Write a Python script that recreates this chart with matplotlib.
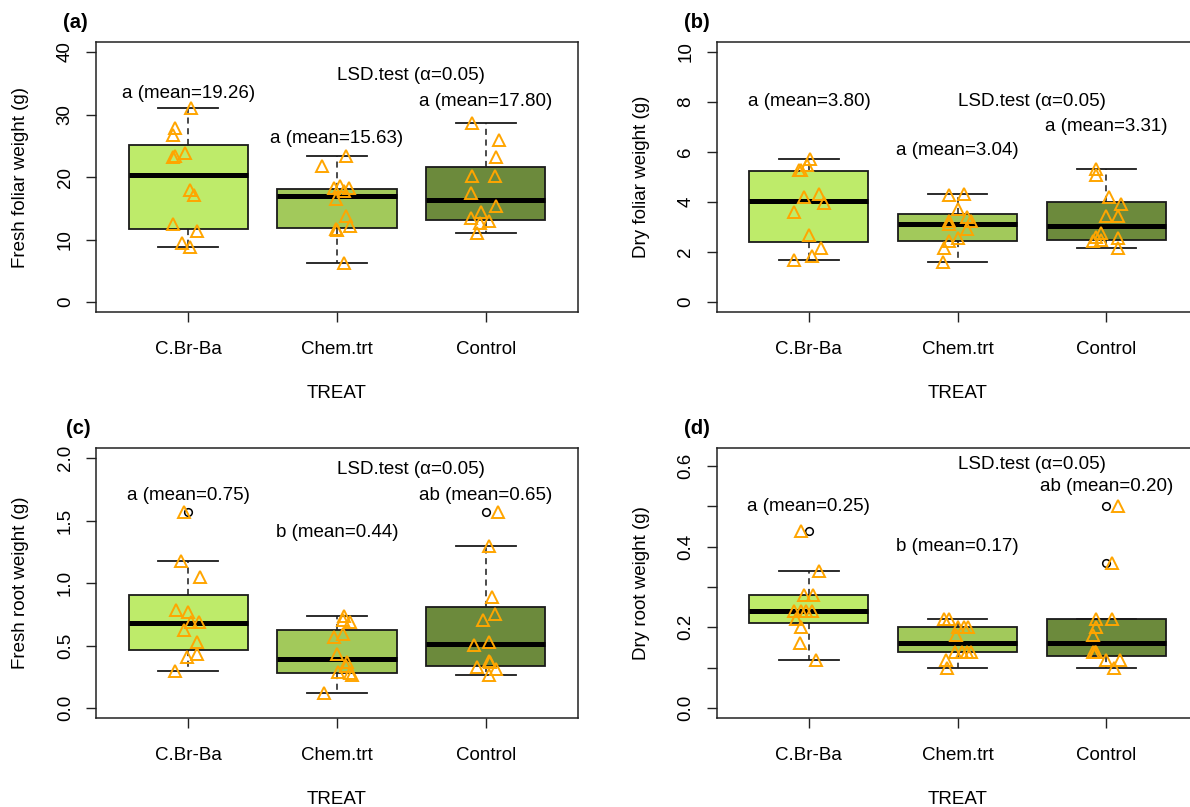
import matplotlib.pyplot as plt
import numpy as np

plt.rcParams['font.family'] = ['Liberation Sans', 'DejaVu Sans']
plt.rcParams['font.size'] = 13.5

treat = ['C.Br-Ba', 'Chem.trt', 'Control']
box_colors = ['#BEEB6A', '#A2C95B', '#6C8A3C']

# (a) fresh foliar weight: points per group, jitter, five numbers, outliers
fw_vals = [[31.1, 27.9, 26.8, 23.9, 23.3, 23.2, 17.9, 17.1, 12.5, 11.3, 9.4, 8.8],
           [23.4, 21.7, 18.2, 18.5, 18.2, 17.8, 16.5, 13.7, 12.2, 11.7, 11.5, 6.2],
           [28.6, 26.0, 23.2, 20.2, 20.2, 17.5, 15.4, 14.4, 13.4, 12.6, 13.0, 11.1]]
fw_jit = [[0.02, -0.09, -0.10, -0.02, -0.09, -0.10, 0.01, 0.04, -0.10, 0.06, -0.04, 0.01],
          [0.06, -0.10, -0.02, 0.02, 0.08, 0.05, -0.01, 0.06, 0.09, -0.01, 0.0, 0.05],
          [-0.09, 0.09, 0.07, -0.09, 0.06, -0.10, 0.07, -0.03, -0.10, -0.04, 0.02, -0.06]]
fw_box = [[8.8, 11.7, 20.4, 25.1, 31.1],
          [6.2, 11.85, 17.0, 18.1, 23.4],
          [11.1, 13.1, 16.3, 21.6, 28.6]]
fw_out = [[], [], []]
fw_lab = ['a (mean=19.26)', 'a (mean=15.63)', 'a (mean=17.80)']

# (b) dry foliar weight
df_vals = [[5.71, 5.50, 5.27, 5.30, 4.21, 4.31, 3.95, 3.59, 2.69, 2.16, 1.70, 1.83],
           [4.30, 4.33, 3.71, 3.39, 3.25, 3.25, 3.11, 2.92, 2.58, 2.43, 2.16, 1.60],
           [5.31, 5.07, 4.19, 3.92, 3.44, 3.46, 2.78, 2.62, 2.45, 2.49, 2.56, 2.17]]
df_jit = [[0.01, -0.01, -0.07, -0.05, -0.03, 0.07, 0.10, -0.10, 0.0, 0.08, -0.10, 0.02],
          [-0.06, 0.04, 0.0, 0.06, -0.06, 0.09, -0.06, 0.06, 0.0, -0.06, -0.09, -0.10],
          [-0.07, -0.07, 0.02, 0.10, 0.0, 0.08, -0.04, -0.07, -0.09, -0.04, 0.08, 0.08]]
df_box = [[1.70, 2.40, 4.04, 5.23, 5.71],
          [1.60, 2.45, 3.14, 3.51, 4.33],
          [2.17, 2.48, 3.06, 3.99, 5.31]]
df_out = [[], [], []]
df_lab = ['a (mean=3.80)', 'a (mean=3.04)', 'a (mean=3.31)']

# (c) fresh root weight
fr_vals = [[1.57, 1.18, 1.045, 0.786, 0.767, 0.688, 0.688, 0.627, 0.529, 0.407, 0.434, 0.30],
           [0.74, 0.706, 0.688, 0.569, 0.593, 0.434, 0.368, 0.336, 0.291, 0.278, 0.265, 0.121],
           [1.57, 1.30, 0.891, 0.751, 0.706, 0.508, 0.529, 0.376, 0.368, 0.328, 0.31, 0.262]]
fr_jit = [[-0.03, -0.05, 0.08, -0.08, 0.0, 0.02, 0.07, -0.03, 0.06, -0.01, 0.06, -0.09],
          [0.05, 0.04, 0.09, -0.02, 0.04, 0.0, 0.07, 0.06, 0.01, 0.09, 0.10, -0.09],
          [0.08, 0.02, 0.04, 0.06, -0.02, -0.08, 0.02, 0.02, 0.03, -0.06, 0.07, 0.02]]
fr_box = [[0.30, 0.468, 0.68, 0.907, 1.18],
          [0.121, 0.278, 0.389, 0.627, 0.74],
          [0.262, 0.339, 0.51, 0.81, 1.30]]
fr_out = [[1.57], [], [1.57]]
fr_lab = ['a (mean=0.75)', 'b (mean=0.44)', 'ab (mean=0.65)']

# (d) dry root weight
dr_vals = [[0.44, 0.34, 0.28, 0.28, 0.24, 0.24, 0.24, 0.24, 0.22, 0.20, 0.16, 0.12],
           [0.22, 0.22, 0.20, 0.20, 0.20, 0.18, 0.14, 0.14, 0.14, 0.14, 0.12, 0.10],
           [0.50, 0.36, 0.22, 0.22, 0.20, 0.18, 0.14, 0.14, 0.14, 0.12, 0.12, 0.10]]
dr_jit = [[-0.05, 0.07, -0.03, 0.03, -0.10, -0.05, -0.02, 0.02, -0.09, -0.05, -0.06, 0.05],
          [-0.09, -0.06, 0.0, 0.04, 0.07, -0.01, -0.02, 0.03, 0.06, 0.09, -0.08, -0.07],
          [0.08, 0.04, -0.07, 0.04, -0.07, -0.09, -0.09, -0.08, -0.07, 0.0, 0.09, 0.05]]
dr_box = [[0.12, 0.21, 0.24, 0.28, 0.34],
          [0.10, 0.14, 0.16, 0.20, 0.22],
          [0.10, 0.13, 0.16, 0.22, 0.22]]
dr_out = [[0.44], [], [0.50, 0.36]]
dr_lab = ['a (mean=0.25)', 'b (mean=0.17)', 'ab (mean=0.20)']

fig = plt.figure(figsize=(11.9, 8.07), dpi=100)
W, H = 1190, 807


def add_ax(x0, y0, x1, y1):
    return fig.add_axes([x0 / W, 1 - y1 / H, (x1 - x0) / W, (y1 - y0) / H])


def draw(ax, vals, jit, box, out, labs, label_y, lsd_y, ymax, yticks, ylabels, ylab):
    stats = []
    for b, o in zip(box, out):
        stats.append(dict(whislo=b[0], q1=b[1], med=b[2], q3=b[3], whishi=b[4], fliers=o))
    parts = ax.bxp(stats, positions=[1, 2, 3], widths=0.8, capwidths=0.4,
                   patch_artist=True, showfliers=True,
                   boxprops=dict(edgecolor='#1a1a1a', linewidth=1.3),
                   medianprops=dict(color='black', linewidth=3.6, solid_capstyle='butt'),
                   whiskerprops=dict(color='#1a1a1a', linewidth=1.1, linestyle=(0, (4, 3))),
                   capprops=dict(color='#1a1a1a', linewidth=1.3),
                   flierprops=dict(marker='o', markerfacecolor='none', markeredgecolor='black',
                                   markersize=5.5, markeredgewidth=1.1))
    for patch, c in zip(parts['boxes'], box_colors):
        patch.set_facecolor(c)
    for i, (v, j) in enumerate(zip(vals, jit)):
        ax.plot(i + 1 + np.array(j), v, ls='none', marker='^', markersize=8.5,
                markerfacecolor='none', markeredgecolor='#FFA500', markeredgewidth=1.4, zorder=5)
    for i, (t, yy) in enumerate(zip(labs, label_y)):
        ax.text(i + 1, yy, t, ha='center', va='center')
    ax.text(2.5, lsd_y, 'LSD.test (\u03b1=0.05)', ha='center', va='center')
    pad = ymax * 0.04
    ax.set_xlim(0.38, 3.62)
    ax.set_ylim(-pad, ymax + pad)
    ax.set_xticks([1, 2, 3])
    ax.set_xticklabels(treat)
    ax.set_yticks(yticks)
    ax.set_yticklabels(ylabels, rotation=90, va='center')
    ax.tick_params(direction='out', length=7, width=1, color='#222222')
    ax.tick_params(axis='x', pad=14)
    ax.tick_params(axis='y', pad=9)
    for s in ax.spines.values():
        s.set_linewidth(1.1)
        s.set_color('#222222')
    ax.set_xlabel('TREAT', labelpad=19)
    ax.set_ylabel(ylab, labelpad=20)


ax_a = add_ax(96, 42, 578, 312)
draw(ax_a, fw_vals, fw_jit, fw_box, fw_out, fw_lab, [33.3, 26.2, 32.1], 36.3, 40,
     [0, 10, 20, 30, 40], ['0', '10', '20', '30', '40'], 'Fresh foliar weight (g)')
ax_b = add_ax(716.7, 42, 1198.7, 312)
draw(ax_b, df_vals, df_jit, df_box, df_out, df_lab, [8.03, 6.07, 7.03], 8.03, 10,
     [0, 2, 4, 6, 8, 10], ['0', '2', '4', '6', '8', '10'], 'Dry foliar weight (g)')
ax_c = add_ax(96, 448, 578, 718)
draw(ax_c, fr_vals, fr_jit, fr_box, fr_out, fr_lab, [1.70, 1.407, 1.70], 1.905, 2.0,
     [0, 0.5, 1.0, 1.5, 2.0], ['0.0', '0.5', '1.0', '1.5', '2.0'], 'Fresh root weight (g)')
ax_d = add_ax(716.7, 448, 1198.7, 718)
draw(ax_d, dr_vals, dr_jit, dr_box, dr_out, dr_lab, [0.50, 0.40, 0.55], 0.603, 0.62,
     [0, 0.1, 0.2, 0.3, 0.4, 0.5, 0.6], ['0.0', '', '0.2', '', '0.4', '', '0.6'],
     'Dry root weight (g)')

for t, x, y in [('(a)', 75, 22), ('(b)', 697, 22), ('(c)', 78, 428), ('(d)', 697, 428)]:
    fig.text(x / W, 1 - y / H, t, ha='center', va='center', fontsize=14.5, fontweight='bold')

fig.savefig('out.png', dpi=100)
